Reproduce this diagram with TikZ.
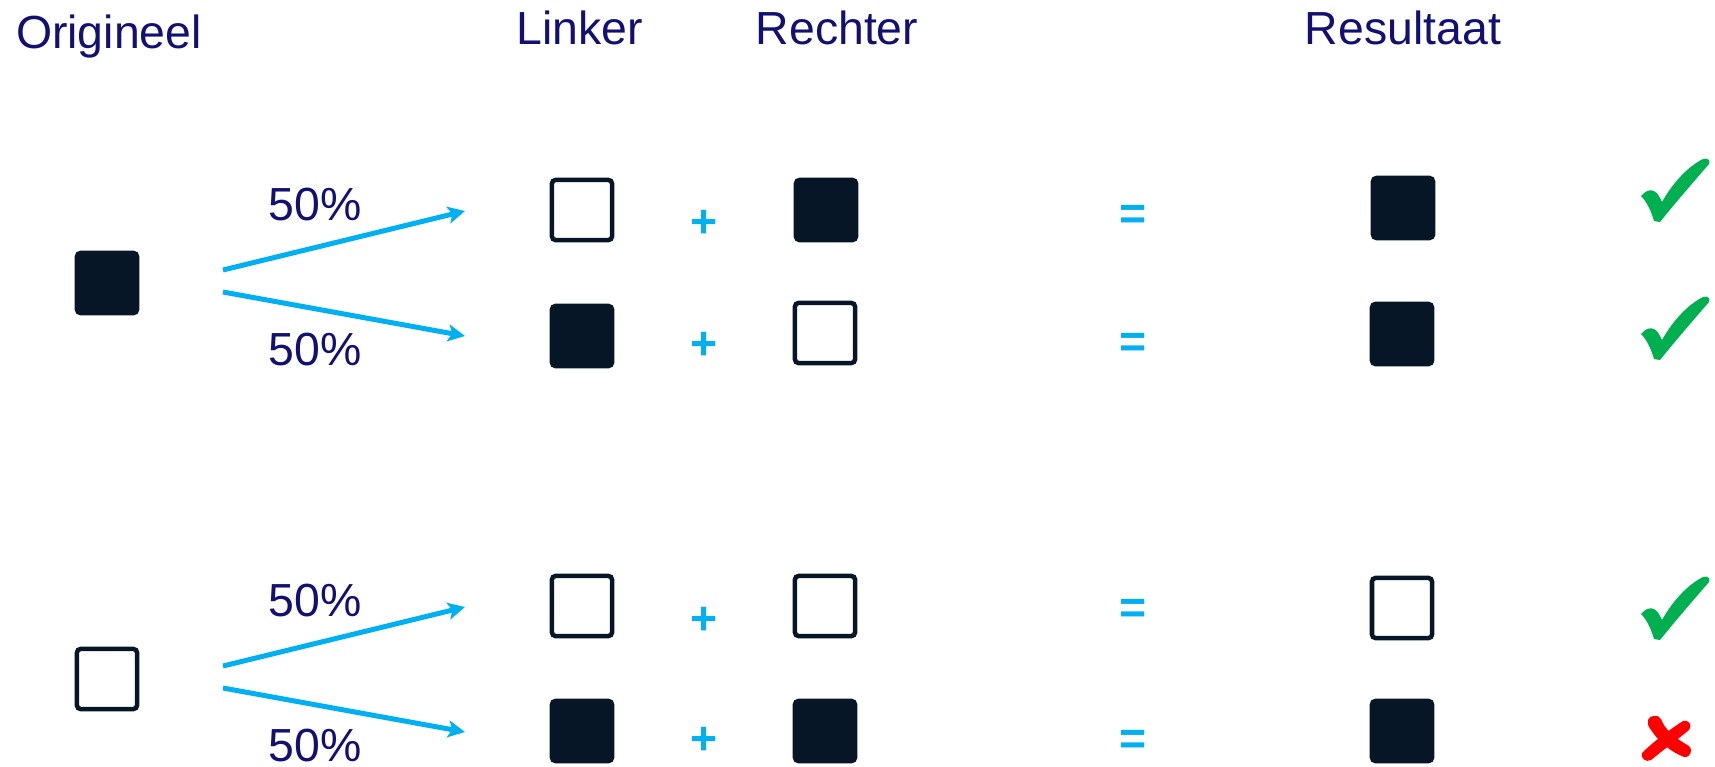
\documentclass[tikz,border=0pt]{standalone}
\usepackage{fontspec}
\setmainfont{Liberation Sans}
\usepackage{tikz}
\usetikzlibrary{arrows.meta}

\definecolor{textnavy}{RGB}{18,17,115}
\definecolor{arrowcyan}{RGB}{0,176,240}
\definecolor{boxnavy}{RGB}{6,22,38}
\definecolor{tickgreen}{RGB}{0,176,80}
\definecolor{crossred}{RGB}{255,0,0}

% groene vinkjes en rood kruisje
\newcommand{\goedvink}[2]{%
  \fill[tickgreen, shift={(#1,#2)}] (0,38) .. controls (4,33) and (9,31) .. (13,33)
    .. controls (17,35) and (19,40) .. (21,44) .. controls (31,26) and (46,9) .. (62,1)
    .. controls (66,-0.5) and (70,2) .. (68,6) .. controls (55,21) and (35,44) .. (19,64)
    -- (13,63) .. controls (10,53) and (6,44) .. (0,38) -- cycle;}
\newcommand{\foutkruis}[2]{%
  \fill[crossred, shift={(#1,#2)}] (7,4) .. controls (8,-1) and (18,-2) .. (20,3)
    .. controls (24,14) and (34,22) .. (48,30) .. controls (52,33) and (50,42) .. (43,41)
    .. controls (30,36) and (18,26) .. (10,14) .. controls (7,10) and (6,7) .. (7,4) -- cycle;
  \fill[crossred, shift={(#1,#2)}] (42,5) .. controls (47,3) and (52,9) .. (48,14)
    .. controls (36,24) and (22,34) .. (10,44) .. controls (5,47) and (-1,42) .. (1,37)
    .. controls (12,26) and (28,14) .. (42,5) -- cycle;}

\begin{document}
\begin{tikzpicture}[x=0.01cm, y=-0.01cm]
    \tikzstyle{arrow} = [line width=0.05cm, draw=arrowcyan, -{Stealth[length=0.17cm, width=0.17cm, inset=0.04cm]}]
    \tikzstyle{fullsq} = [rectangle, minimum size=0.6cm, inner sep=0pt, rounded corners=1pt, draw=boxnavy, line width=0.045cm, fill=boxnavy]
    \tikzstyle{emptysq} = [rectangle, minimum size=0.6cm, inner sep=0pt, rounded corners=1pt, draw=boxnavy, line width=0.045cm, fill=white]
    \tikzstyle{header} = [anchor=base, inner sep=0pt, text=textnavy, font=\fontsize{13.2pt}{16pt}\selectfont]
    \tikzstyle{pct} = [anchor=base, inner sep=0pt, text=textnavy, font=\fontsize{13.2pt}{16pt}\selectfont]
    \tikzstyle{opsign} = [anchor=base, inner sep=0pt, text=arrowcyan, font=\fontsize{13.2pt}{16pt}\selectfont\bfseries]
    \useasboundingbox (0,0) rectangle (1715,766);

    % kolomkoppen
    \node (h-orig) [header] at (109,48) {Origineel};
    \node (h-left) [header] at (580,44) {Linker};
    \node (h-right) [header] at (837,44) {Rechter};
    \node (h-result) [header] at (1403,44) {Resultaat};

    % bovenste groep: origineel vol
    \node (orig-a) [fullsq] at (107,283) {};
    \coordinate (split-a1) at (223,270);
    \coordinate (split-a2) at (223,292);
    \coordinate (end-a1) at (465,211);
    \coordinate (end-a2) at (465,336);
    \draw [arrow] (split-a1) -- (end-a1);
    \draw [arrow] (split-a2) -- (end-a2);
    \node (pct-a1) [pct] at (315,220) {50\%};
    \node (pct-a2) [pct] at (315,365) {50\%};

    \node (l-1) [emptysq] at (582,210) {};
    \node (plus-1) [opsign] at (704,237) {+};
    \node (r-1) [fullsq] at (826,210) {};
    \node (eq-1) [opsign] at (1133,229) {=};
    \node (res-1) [fullsq] at (1403,208) {};

    \node (l-2) [fullsq] at (582,336) {};
    \node (plus-2) [opsign] at (704,359) {+};
    \node (r-2) [emptysq] at (825,333) {};
    \node (eq-2) [opsign] at (1133,357) {=};
    \node (res-2) [fullsq] at (1402,334) {};

    % onderste groep: origineel leeg
    \node (orig-b) [emptysq] at (107,679) {};
    \coordinate (split-b1) at (223,666);
    \coordinate (split-b2) at (223,688);
    \coordinate (end-b1) at (465,607);
    \coordinate (end-b2) at (465,732);
    \draw [arrow] (split-b1) -- (end-b1);
    \draw [arrow] (split-b2) -- (end-b2);
    \node (pct-b1) [pct] at (315,616) {50\%};
    \node (pct-b2) [pct] at (315,761) {50\%};

    \node (l-3) [emptysq] at (582,606) {};
    \node (plus-3) [opsign] at (704,634) {+};
    \node (r-3) [emptysq] at (825,606) {};
    \node (eq-3) [opsign] at (1133,623) {=};
    \node (res-3) [emptysq] at (1402,608) {};

    \node (l-4) [fullsq] at (582,731) {};
    \node (plus-4) [opsign] at (704,754) {+};
    \node (r-4) [fullsq] at (825,731) {};
    \node (eq-4) [opsign] at (1133,754) {=};
    \node (res-4) [fullsq] at (1402,731) {};

    \goedvink{1641}{158}
    \goedvink{1641}{296}
    \goedvink{1641}{576}
    \foutkruis{1641}{716}
\end{tikzpicture}
\end{document}
